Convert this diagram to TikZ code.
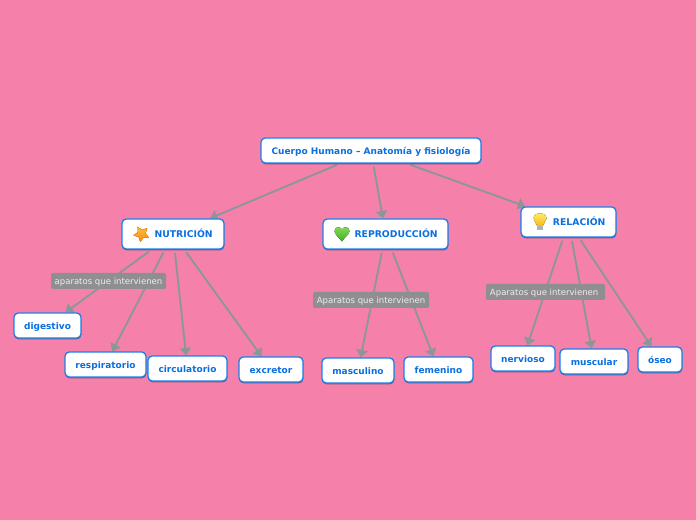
\documentclass[tikz,border=0pt]{standalone}
\usepackage{fontspec}
\setmainfont{DejaVu Sans}
\usetikzlibrary{arrows.meta,shadows}
\pgfdeclarelayer{edges}
\pgfsetlayers{edges,main}
\definecolor{bgpink}{HTML}{F581AA}
\definecolor{boxblue}{HTML}{1C7FE8}
\definecolor{textblue}{HTML}{0A6FE0}
\definecolor{linegrey}{HTML}{8B9699}
\definecolor{labelgrey}{HTML}{8F8F92}
\definecolor{labeltext}{HTML}{EDEDED}
\definecolor{starlight}{HTML}{FFC040}
\definecolor{stardark}{HTML}{F58A10}
\definecolor{heartlight}{HTML}{8ADB5A}
\definecolor{heartdark}{HTML}{3FAE24}
\definecolor{bulblight}{HTML}{FFF27A}
\definecolor{bulbdark}{HTML}{F7B90F}
\tikzset{
  x=0.75pt,y=-0.75pt,
  topic/.style 2 args={draw=boxblue,line width=1pt,fill=white,rounded corners=3.2pt,
    inner sep=0pt,minimum width=#1*0.75pt,minimum height=#2*0.75pt,
    text height=7pt,text depth=1pt,
    text=textblue,font=\bfseries\fontsize{6.75pt}{8pt}\selectfont,
    drop shadow={shadow xshift=0.2pt,shadow yshift=-1pt,fill=black!60!boxblue,opacity=0.55}},
  headtopic/.style 2 args={topic={#1}{#2},font=\bfseries\fontsize{6.95pt}{8pt}\selectfont},
  tag/.style 2 args={fill=labelgrey,rounded corners=1pt,inner sep=0pt,
    minimum width=#1*0.75pt,minimum height=#2*0.75pt,text=labeltext,
    text height=6pt,text depth=0.8pt,
    font=\fontsize{6.4pt}{8pt}\selectfont},
  link/.style={draw=linegrey,line width=1.4pt,shorten <=2.4pt,
    -{Triangle[length=5.5pt,width=8.5pt]}},
}
\begin{document}
\begin{tikzpicture}
\begin{pgfonlayer}{edges}
\path[use as bounding box,fill=bgpink] (0,0) rectangle (696,520);
\end{pgfonlayer}
% topics
\node[topic={220}{25}] (root) at (371,150.5) {Cuerpo Humano – Anatomía y fisiología};
\node[headtopic={102}{30}] (nutri) at (173,234) {\hspace*{16pt}NUTRICIÓN};
\node[headtopic={125}{30}] (repro) at (385.5,234) {\hspace*{16pt}REPRODUCCIÓN};
\node[headtopic={95}{30}] (rela) at (568.5,222) {\hspace*{16pt}RELACIÓN};
\node[topic={67}{25}] (dig) at (47.5,325.5) {digestivo};
\node[topic={81}{25}] (resp) at (105.5,364.5) {respiratorio};
\node[topic={79}{25}] (circ) at (187.5,368.5) {circulatorio};
\node[topic={64}{25}] (excr) at (271,369.5) {excretor};
\node[topic={72}{25}] (masc) at (358,370.5) {masculino};
\node[topic={69}{25}] (feme) at (438.5,369.5) {femenino};
\node[topic={64}{25}] (nerv) at (523,358.5) {nervioso};
\node[topic={68}{25}] (musc) at (594,361.5) {muscular};
\node[topic={44}{25}] (oseo) at (660,359.5) {óseo};
% labels
\node[tag={115}{16}] (l1) at (108.5,281) {aparatos que intervienen};
\node[tag={116}{16}] (l2) at (371,300) {Aparatos que intervienen};
\node[tag={119}{16}] (l3) at (545.5,292) {Aparatos que intervienen\hspace*{2pt}};
% connectors
\begin{pgfonlayer}{edges}
\foreach \a/\b in {root/nutri,root/repro,root/rela,
  nutri/dig,nutri/resp,nutri/circ,nutri/excr,
  repro/masc,repro/feme,rela/nerv,rela/musc,rela/oseo}
  \draw[link] (\a) -- (\b);
\end{pgfonlayer}
% star icon
\begin{scope}[shift={(141.5,234)},rotate=-8]
\fill[top color=starlight,bottom color=stardark,draw=stardark,line width=0.4pt,line join=round]
  (90:8)--(126:4)--(162:8)--(198:4)--(234:8)--(270:4)--(306:8)--(342:4)--(18:8)--(54:4)--cycle;
\end{scope}
% heart icon
\begin{scope}[shift={(342,234)}]
\fill[top color=heartlight,bottom color=heartdark]
  (0,7.5) .. controls (-3,3.5) and (-7.5,0.5) .. (-7.5,-3)
  .. controls (-7.5,-7.5) and (-1.5,-8) .. (0,-4.5)
  .. controls (1.5,-8) and (7.5,-7.5) .. (7.5,-3)
  .. controls (7.5,0.5) and (3,2.5) .. (0,7.5) -- cycle;
\end{scope}
% bulb icon
\begin{scope}[shift={(540,221)}]
\fill[gray!60] (-2.6,4.5) rectangle (2.6,8.8);
\fill[top color=bulblight,bottom color=bulbdark]
  (-2.8,5) .. controls (-3,2) and (-6.5,0.5) .. (-6.5,-2.5)
  .. controls (-6.5,-9.5) and (6.5,-9.5) .. (6.5,-2.5)
  .. controls (6.5,0.5) and (3,2) .. (2.8,5) -- cycle;
\end{scope}
\end{tikzpicture}
\end{document}
